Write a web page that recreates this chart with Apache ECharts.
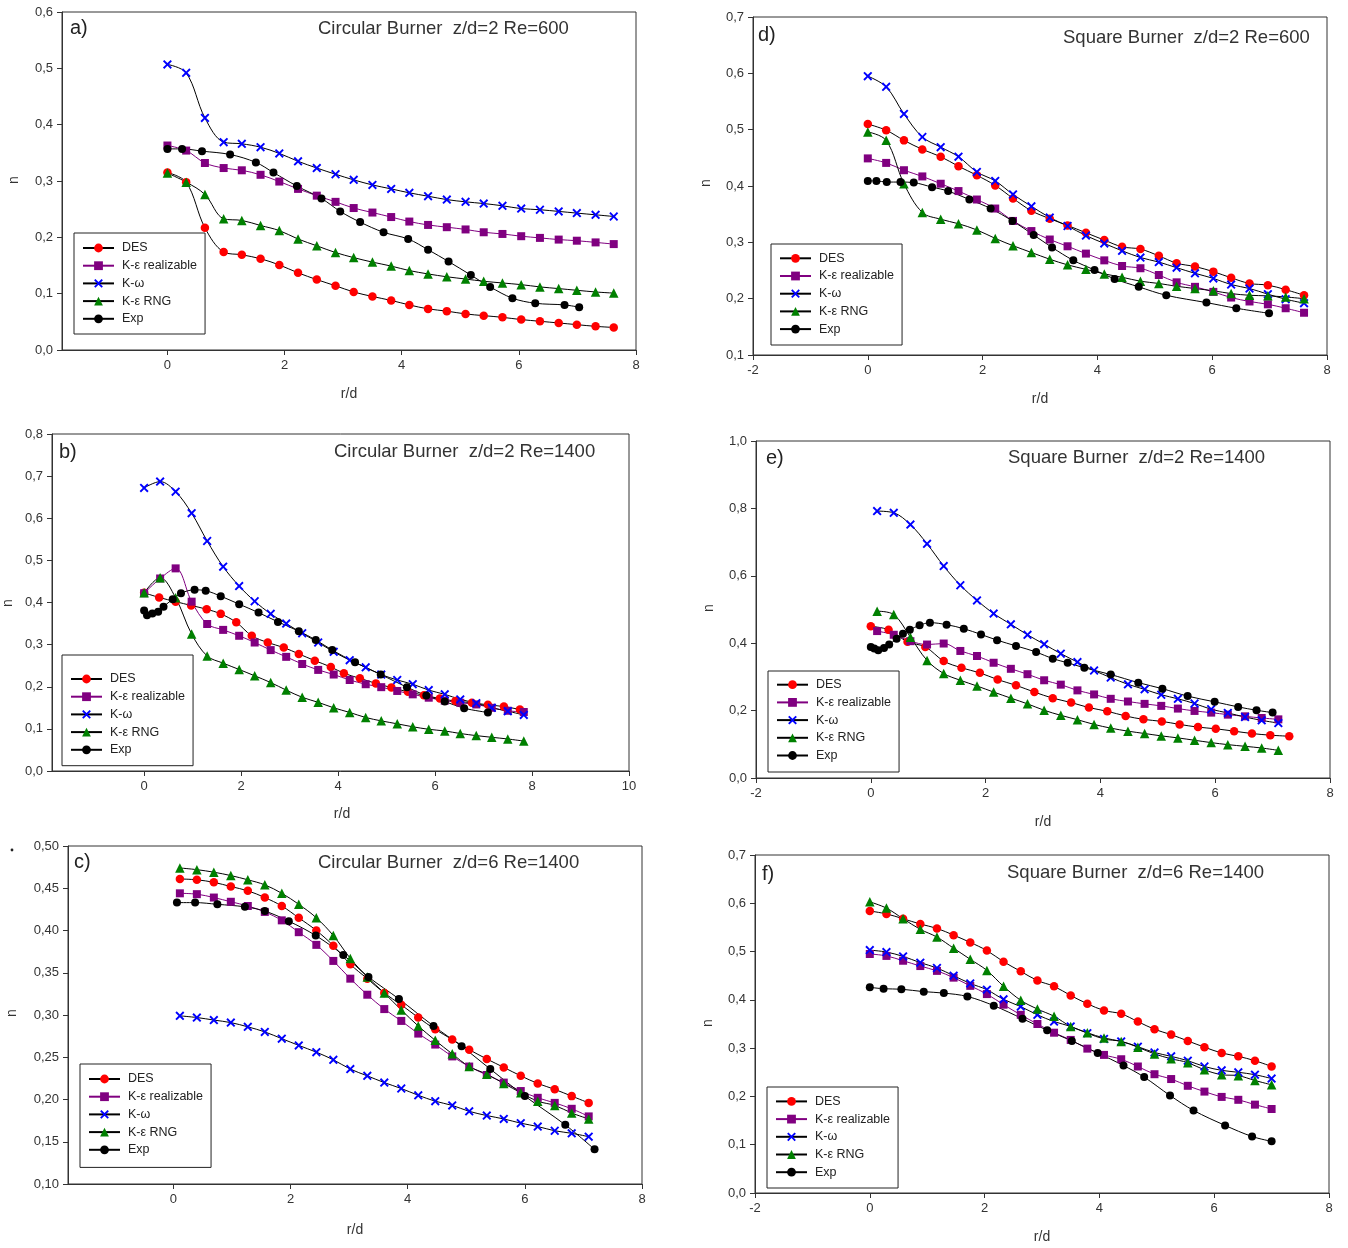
<!DOCTYPE html>
<html>
<head>
<meta charset="utf-8">
<script src="https://cdn.jsdelivr.net/npm/echarts@6/dist/echarts.min.js"></script>
<style>
  html, body { margin: 0; padding: 0; background: #fff; }
  #chart { width: 1348px; height: 1248px; }
</style>
</head>
<body>
<div id="chart"></div>
<script>
// ---------- a) Circular burner, z/d=2, Re=600 ----------
const aR = [0,0.32,0.64,0.96,1.27,1.59,1.91,2.23,2.55,2.87,3.18,3.50,3.82,4.13,4.45,4.77,5.09,5.40,5.72,6.04,6.36,6.68,6.99,7.31,7.62];
const aDES = [0.315,0.298,0.217,0.174,0.169,0.162,0.151,0.137,0.125,0.114,0.103,0.095,0.088,0.080,0.073,0.069,0.064,0.061,0.058,0.054,0.051,0.048,0.045,0.042,0.040];
const aReal = [0.363,0.354,0.332,0.323,0.319,0.311,0.299,0.286,0.274,0.263,0.252,0.244,0.236,0.228,0.222,0.218,0.214,0.209,0.206,0.202,0.199,0.196,0.194,0.191,0.188];
const aKw = [0.507,0.492,0.412,0.369,0.366,0.360,0.349,0.335,0.323,0.312,0.302,0.293,0.286,0.279,0.273,0.267,0.263,0.260,0.256,0.251,0.249,0.246,0.243,0.240,0.237];
const aRng = [0.314,0.298,0.276,0.233,0.230,0.221,0.212,0.197,0.185,0.173,0.164,0.156,0.149,0.141,0.135,0.130,0.126,0.122,0.119,0.116,0.112,0.109,0.106,0.103,0.101];
const aExpR = [0,0.25,0.59,1.07,1.51,1.81,2.21,2.63,2.95,3.29,3.69,4.11,4.45,4.80,5.18,5.51,5.89,6.28,6.78,7.03];
const aExp = [0.357,0.357,0.353,0.347,0.333,0.315,0.291,0.269,0.246,0.227,0.209,0.197,0.178,0.157,0.133,0.112,0.092,0.083,0.080,0.076];

// ---------- b) Circular burner, z/d=2, Re=1400 ----------
const bR = [0,0.33,0.65,0.98,1.30,1.63,1.96,2.28,2.61,2.93,3.26,3.59,3.91,4.24,4.57,4.89,5.22,5.54,5.87,6.20,6.52,6.85,7.17,7.50,7.83];
const bDesR = [0,0.31,0.65,0.97,1.29,1.58,1.90,2.22,2.55,2.88,3.19,3.52,3.85,4.12,4.45,4.78,5.10,5.44,5.77,6.10,6.42,6.76,7.09,7.42,7.75];
const bDES = [0.423,0.412,0.402,0.393,0.384,0.373,0.353,0.321,0.305,0.293,0.278,0.262,0.247,0.232,0.220,0.208,0.198,0.188,0.180,0.172,0.166,0.162,0.157,0.153,0.146];
const bReal = [0.422,0.457,0.481,0.402,0.349,0.335,0.321,0.305,0.287,0.271,0.254,0.240,0.229,0.216,0.206,0.199,0.190,0.182,0.174,0.167,0.162,0.158,0.150,0.143,0.140];
const bKw = [0.672,0.687,0.663,0.612,0.546,0.485,0.439,0.403,0.373,0.350,0.327,0.305,0.283,0.263,0.246,0.229,0.216,0.206,0.192,0.182,0.170,0.161,0.150,0.142,0.133];
const bRng = [0.423,0.459,0.411,0.325,0.273,0.256,0.241,0.226,0.210,0.192,0.175,0.163,0.150,0.139,0.127,0.119,0.112,0.105,0.099,0.095,0.089,0.084,0.080,0.076,0.071];
const bExpR = [0,0.06,0.17,0.29,0.40,0.59,0.76,1.04,1.27,1.58,1.96,2.36,2.76,3.19,3.54,3.88,4.35,4.88,5.42,5.82,6.20,6.60,7.09];
const bExp = [0.381,0.370,0.374,0.378,0.390,0.408,0.422,0.430,0.428,0.415,0.396,0.376,0.354,0.332,0.311,0.287,0.258,0.229,0.199,0.179,0.165,0.149,0.139];

// ---------- c) Circular burner, z/d=6, Re=1400 ----------
const cR = [0.11,0.40,0.69,0.98,1.27,1.56,1.85,2.14,2.44,2.73,3.02,3.31,3.60,3.89,4.18,4.47,4.76,5.05,5.35,5.64,5.93,6.22,6.51,6.80,7.09];
const cDES = [0.461,0.460,0.457,0.452,0.447,0.439,0.429,0.415,0.400,0.382,0.360,0.343,0.326,0.312,0.297,0.283,0.271,0.259,0.248,0.238,0.228,0.219,0.212,0.204,0.196];
const cReal = [0.444,0.443,0.439,0.434,0.429,0.422,0.412,0.398,0.383,0.364,0.343,0.324,0.307,0.293,0.278,0.265,0.251,0.239,0.229,0.220,0.210,0.202,0.196,0.189,0.180];
const cKw = [0.299,0.297,0.294,0.291,0.286,0.280,0.272,0.264,0.256,0.247,0.236,0.228,0.220,0.213,0.205,0.198,0.193,0.186,0.181,0.177,0.172,0.168,0.163,0.160,0.156];
const cRng = [0.474,0.472,0.469,0.465,0.460,0.454,0.444,0.431,0.415,0.394,0.367,0.345,0.326,0.306,0.287,0.270,0.254,0.239,0.230,0.219,0.208,0.198,0.193,0.184,0.177];
const cExpR = [0.06,0.37,0.75,1.22,1.56,1.97,2.43,2.90,3.33,3.85,4.44,4.92,5.41,6.00,6.69,7.19];
const cExp = [0.433,0.433,0.431,0.428,0.423,0.411,0.394,0.371,0.345,0.319,0.287,0.263,0.236,0.204,0.170,0.141];

// ---------- d) Square burner, z/d=2, Re=600 ----------
const dR = [0,0.32,0.63,0.95,1.27,1.58,1.90,2.22,2.53,2.85,3.17,3.48,3.80,4.12,4.43,4.75,5.07,5.38,5.70,6.02,6.33,6.65,6.97,7.28,7.60];
const dDES = [0.510,0.499,0.481,0.465,0.452,0.435,0.419,0.401,0.378,0.356,0.342,0.330,0.317,0.304,0.292,0.288,0.276,0.263,0.257,0.248,0.237,0.227,0.224,0.216,0.206];
const dReal = [0.449,0.441,0.428,0.417,0.404,0.391,0.376,0.360,0.338,0.320,0.305,0.293,0.280,0.268,0.258,0.254,0.242,0.229,0.221,0.212,0.202,0.195,0.190,0.183,0.175];
const dKw = [0.595,0.576,0.528,0.487,0.469,0.452,0.425,0.409,0.385,0.364,0.344,0.329,0.312,0.298,0.285,0.273,0.265,0.255,0.245,0.236,0.225,0.218,0.208,0.199,0.192];
const dRng = [0.496,0.481,0.404,0.353,0.341,0.333,0.322,0.307,0.294,0.282,0.270,0.260,0.252,0.244,0.238,0.231,0.227,0.222,0.218,0.214,0.209,0.206,0.205,0.203,0.200];
const dExpR = [0,0.15,0.33,0.57,0.80,1.12,1.40,1.77,2.14,2.52,2.89,3.21,3.58,3.95,4.30,4.72,5.20,5.90,6.42,6.99];
const dExp = [0.409,0.409,0.407,0.407,0.406,0.398,0.391,0.376,0.360,0.338,0.313,0.291,0.268,0.251,0.235,0.221,0.206,0.193,0.183,0.174];

// ---------- e) Square burner, z/d=2, Re=1400 ----------
const eR = [0.11,0.40,0.69,0.98,1.27,1.56,1.85,2.14,2.44,2.73,3.02,3.31,3.60,3.89,4.18,4.48,4.77,5.06,5.35,5.64,5.93,6.22,6.52,6.81,7.10];
const eDesR = [0,0.31,0.64,0.95,1.27,1.58,1.90,2.21,2.53,2.85,3.17,3.49,3.80,4.12,4.44,4.75,5.07,5.38,5.70,6.01,6.33,6.64,6.96,7.29];
const eDES = [0.450,0.440,0.404,0.389,0.347,0.327,0.312,0.292,0.275,0.255,0.237,0.224,0.209,0.198,0.184,0.174,0.168,0.159,0.151,0.146,0.139,0.132,0.127,0.124];
const eReal = [0.436,0.425,0.406,0.396,0.399,0.377,0.362,0.342,0.324,0.308,0.290,0.277,0.260,0.248,0.235,0.227,0.220,0.214,0.206,0.199,0.194,0.188,0.183,0.178,0.174];
const eKw = [0.792,0.787,0.752,0.695,0.629,0.572,0.527,0.488,0.456,0.425,0.397,0.369,0.344,0.319,0.298,0.278,0.263,0.247,0.235,0.221,0.204,0.193,0.181,0.171,0.163];
const eRng = [0.495,0.485,0.418,0.349,0.310,0.290,0.273,0.255,0.237,0.220,0.201,0.186,0.173,0.159,0.148,0.139,0.132,0.125,0.119,0.112,0.105,0.099,0.094,0.089,0.082];
const eExpR = [0,0.06,0.13,0.23,0.32,0.45,0.56,0.68,0.85,1.03,1.32,1.62,1.92,2.20,2.53,2.88,3.17,3.43,3.72,4.18,4.66,5.08,5.52,5.99,6.40,6.72,7.00];
const eExp = [0.389,0.384,0.379,0.386,0.396,0.413,0.428,0.440,0.453,0.461,0.455,0.443,0.426,0.409,0.392,0.374,0.354,0.342,0.327,0.307,0.283,0.265,0.243,0.226,0.211,0.201,0.194];

// ---------- f) Square burner, z/d=6, Re=1400 ----------
const fR = [0,0.29,0.58,0.88,1.17,1.46,1.75,2.04,2.33,2.63,2.92,3.21,3.50,3.79,4.08,4.38,4.67,4.96,5.25,5.54,5.83,6.13,6.42,6.71,7.00];
const fDES = [0.584,0.578,0.568,0.557,0.548,0.534,0.519,0.502,0.479,0.459,0.440,0.428,0.409,0.392,0.378,0.371,0.355,0.339,0.328,0.315,0.302,0.290,0.283,0.274,0.262];
const fReal = [0.495,0.491,0.481,0.470,0.460,0.446,0.429,0.412,0.390,0.369,0.350,0.332,0.317,0.299,0.286,0.277,0.262,0.246,0.236,0.222,0.210,0.199,0.193,0.183,0.174];
const fKw = [0.503,0.499,0.490,0.477,0.466,0.450,0.434,0.421,0.401,0.386,0.369,0.355,0.345,0.331,0.319,0.314,0.303,0.291,0.283,0.274,0.262,0.254,0.250,0.245,0.237];
const fRng = [0.603,0.590,0.568,0.546,0.530,0.507,0.484,0.461,0.428,0.399,0.381,0.366,0.345,0.332,0.321,0.314,0.302,0.288,0.278,0.270,0.255,0.245,0.243,0.233,0.224];
const fExpR = [0,0.24,0.55,0.94,1.29,1.70,2.16,2.66,3.09,3.52,3.97,4.42,4.78,5.23,5.64,6.19,6.66,7.00];
const fExp = [0.426,0.423,0.422,0.417,0.414,0.407,0.388,0.361,0.337,0.315,0.290,0.264,0.240,0.202,0.171,0.140,0.117,0.107];

// Series names and axis tick labels
const seriesNames = ['DES', 'K-ε realizable', 'K-ω', 'K-ε RNG', 'Exp'];
const ticksCirc = [0, 2, 4, 6, 8];
const ticksCircWide = [0, 2, 4, 6, 8, 10];

// ---------- styling ----------
const FONT = '"Liberation Sans", Arial, sans-serif';
const AX = '#333';
const X_MARK = 'path://M0,1.5L1.5,0L5,3.5L8.5,0L10,1.5L6.5,5L10,8.5L8.5,10L5,6.5L1.5,10L0,8.5L3.5,5Z';
const look = [
  { symbol: 'circle',   size: 8.5, color: '#ff0000', line: '#000000' },
  { symbol: 'rect',     size: 8,   color: '#800080', line: '#800080' },
  { symbol: X_MARK,     size: 9,   color: '#0000ff', line: '#000000' },
  { symbol: 'triangle', size: 9.5, color: '#008000', line: '#000000' },
  { symbol: 'circle',   size: 8,   color: '#000000', line: '#000000' }
];

// Panel layout: grid box [left, top, width, height] in px
const panels = [
  { grid: [62, 12, 574, 338], x: [-1.8, 8], xTicks: ticksCirc, y: [0, 0.6, 0.1], dec: 1,
    legend: [74, 233, 8.5, 8.7], letter: 'a)', letterAt: [70, 28],
    title: 'Circular Burner  z/d=2 Re=600', titleAt: [318, 29], nAt: [14, 180], rdAt: [349, 394],
    data: [[aR, aDES], [aR, aReal], [aR, aKw], [aR, aRng], [aExpR, aExp]] },
  { grid: [753, 17, 574, 338], x: [-2, 8], xInterval: 2, y: [0.1, 0.7, 0.1], dec: 1,
    legend: [771, 244, 7.8, 9.4], letter: 'd)', letterAt: [758, 35],
    title: 'Square Burner  z/d=2 Re=600', titleAt: [1063, 38], nAt: [706, 183], rdAt: [1040, 399],
    data: [[dR, dDES], [dR, dReal], [dR, dKw], [dR, dRng], [dExpR, dExp]] },
  { grid: [52, 434, 577, 337], x: [-1.9, 10], xTicks: ticksCircWide, y: [0, 0.8, 0.1], dec: 1,
    legend: [62, 655, 17.5, 9.4], letter: 'b)', letterAt: [59, 452],
    title: 'Circular Burner  z/d=2 Re=1400', titleAt: [334, 452], nAt: [8, 603], rdAt: [342, 814],
    data: [[bDesR, bDES], [bR, bReal], [bR, bKw], [bR, bRng], [bExpR, bExp]] },
  { grid: [756, 441, 574, 337], x: [-2, 8], xInterval: 2, y: [0, 1.0, 0.2], dec: 1,
    legend: [768, 671, 7.2, 10], letter: 'e)', letterAt: [766, 458],
    title: 'Square Burner  z/d=2 Re=1400', titleAt: [1008, 458], nAt: [709, 608], rdAt: [1043, 822],
    data: [[eDesR, eDES], [eR, eReal], [eR, eKw], [eR, eRng], [eExpR, eExp]] },
  { grid: [68, 846, 574, 338], x: [-1.8, 8], xTicks: ticksCirc, y: [0.10, 0.50, 0.05], dec: 2,
    legend: [80, 1064, 8.5, 11.1], letter: 'c)', letterAt: [74, 862],
    title: 'Circular Burner  z/d=6 Re=1400', titleAt: [318, 863], nAt: [12.5, 1013], rdAt: [355, 1230],
    data: [[cR, cDES], [cR, cReal], [cR, cKw], [cR, cRng], [cExpR, cExp]] },
  { grid: [755, 855, 574, 338], x: [-2, 8], xInterval: 2, y: [0, 0.7, 0.1], dec: 1,
    legend: [767, 1087, 7.9, 9.3], letter: 'f)', letterAt: [762, 874],
    title: 'Square Burner  z/d=6 Re=1400', titleAt: [1007, 873], nAt: [708, 1023], rdAt: [1042, 1237],
    data: [[fR, fDES], [fR, fReal], [fR, fKw], [fR, fRng], [fExpR, fExp]] }
];

const grids = panels.map(p => ({
  left: p.grid[0], top: p.grid[1], width: p.grid[2], height: p.grid[3],
  show: true, borderColor: AX, borderWidth: 1, backgroundColor: 'transparent',
  containLabel: false, outerBoundsMode: 'none'
}));

const xAxes = panels.map((p, i) => ({
  gridIndex: i, type: 'value', min: p.x[0], max: p.x[1],
  interval: p.xInterval,
  axisLine: { show: true, onZero: false, lineStyle: { color: AX, width: 1 } },
  axisTick: { show: true, inside: false, length: 5, lineStyle: { color: AX, width: 1 }, customValues: p.xTicks },
  axisLabel: { show: true, customValues: p.xTicks, margin: 9, color: AX, fontSize: 13, fontFamily: FONT,
               formatter: v => String(v) },
  splitLine: { show: false }
}));

const yAxes = panels.map((p, i) => ({
  gridIndex: i, type: 'value', min: p.y[0], max: p.y[1], interval: p.y[2],
  axisLine: { show: true, onZero: false, lineStyle: { color: AX, width: 1 } },
  axisTick: { show: true, inside: false, length: 5, lineStyle: { color: AX, width: 1 } },
  axisLabel: { show: true, margin: 9, color: AX, fontSize: 13, fontFamily: FONT,
               formatter: v => v.toFixed(p.dec).replace('.', ',') },
  splitLine: { show: false }
}));

const series = [];
panels.forEach((p, gi) => {
  p.data.forEach(([xs, ys], k) => {
    const s = look[k];
    series.push({
      type: 'line', name: seriesNames[k], xAxisIndex: gi, yAxisIndex: gi,
      data: xs.map((x, j) => [x, ys[j]]),
      symbol: s.symbol, symbolSize: s.size, showSymbol: true, showAllSymbol: true,
      smooth: 0.35, clip: false,
      lineStyle: { color: s.line, width: 1 },
      itemStyle: { color: s.color, borderWidth: 0 },
      emphasis: { disabled: true }, silent: true
    });
  });
});

const legends = panels.map(p => ({
  left: p.legend[0], top: p.legend[1], orient: 'vertical',
  data: seriesNames, selectedMode: false,
  padding: [p.legend[2], 8, p.legend[3], 8],
  borderColor: '#222', borderWidth: 1, backgroundColor: '#fff',
  itemWidth: 31, itemHeight: 11, itemGap: 4.7,
  textStyle: { fontFamily: FONT, fontSize: 12.5, color: '#222', lineHeight: 13, padding: [0, 0, 0, 3] }
}));

const texts = [];
panels.forEach(p => {
  texts.push({ type: 'text', x: p.letterAt[0], y: p.letterAt[1], silent: true,
    style: { text: p.letter, font: '20px ' + FONT, fill: '#222', textAlign: 'left', textVerticalAlign: 'middle', align: 'left', verticalAlign: 'middle' } });
  texts.push({ type: 'text', x: p.titleAt[0], y: p.titleAt[1], silent: true,
    style: { text: p.title, font: '18.5px ' + FONT, fill: '#333', textAlign: 'left', textVerticalAlign: 'middle', align: 'left', verticalAlign: 'middle' } });
  texts.push({ type: 'text', x: p.nAt[0], y: p.nAt[1], rotation: Math.PI / 2, silent: true,
    style: { text: 'n', font: '14px ' + FONT, fill: '#333', textAlign: 'center', textVerticalAlign: 'middle', align: 'center', verticalAlign: 'middle' } });
  texts.push({ type: 'text', x: p.rdAt[0], y: p.rdAt[1], silent: true,
    style: { text: 'r/d', font: '14px ' + FONT, fill: '#333', textAlign: 'center', textVerticalAlign: 'middle', align: 'center', verticalAlign: 'middle' } });
});
texts.push({ type: 'circle', shape: { cx: 12, cy: 850, r: 1.4 }, style: { fill: '#222' }, silent: true });

const chart = echarts.init(document.getElementById('chart'), null, { renderer: 'canvas' });
chart.setOption({
  animation: false,
  backgroundColor: '#fff',
  grid: grids, xAxis: xAxes, yAxis: yAxes,
  legend: legends, series: series, graphic: texts
});
</script>
</body>
</html>
